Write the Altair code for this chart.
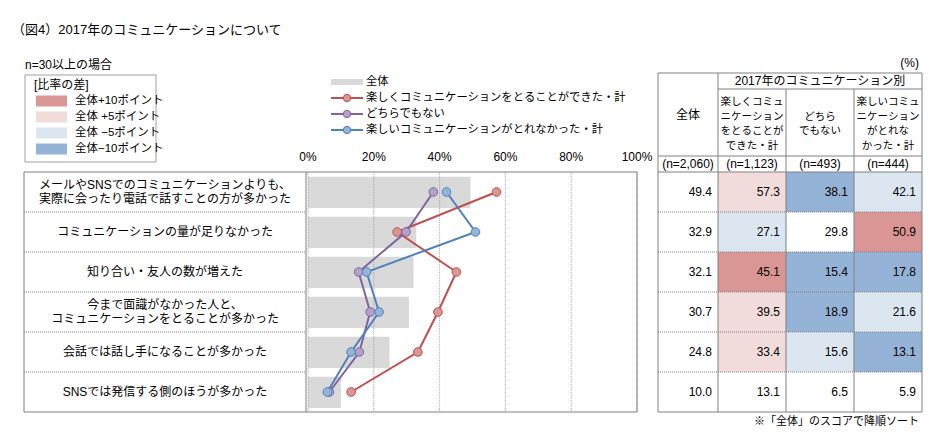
import altair as alt
import pandas as pd

# ---------------- data ----------------
title_text = "（図4）2017年のコミュニケーションについて"
subset_note = "n=30以上の場合"
unit_note = "(%)"
sort_note = "※「全体」のスコアで降順ソート"

items = [
    "メールやSNSでのコミュニケーションよりも、\n実際に会ったり電話で話すことの方が多かった",
    "コミュニケーションの量が足りなかった",
    "知り合い・友人の数が増えた",
    "今まで面識がなかった人と、\nコミュニケーションをとることが多かった",
    "会話では話し手になることが多かった",
    "SNSでは発信する側のほうが多かった",
]
total = [49.4, 32.9, 32.1, 30.7, 24.8, 10.0]
enjoyed = [57.3, 27.1, 45.1, 39.5, 33.4, 13.1]
neither = [38.1, 29.8, 15.4, 18.9, 15.6, 6.5]
not_enjoyed = [42.1, 50.9, 17.8, 21.6, 13.1, 5.9]

total_name = "全体"
series_names = [
    "楽しくコミュニケーションをとることができた・計",
    "どちらでもない",
    "楽しいコミュニケーションがとれなかった・計",
]
group_header = "2017年のコミュニケーション別"
column_headers = [
    "全体",
    "楽しくコミュ\nニケーション\nをとることが\nできた・計",
    "どちら\nでもない",
    "楽しいコミュ\nニケーション\nがとれな\nかった・計",
]
sample_sizes = ["(n=2,060)", "(n=1,123)", "(n=493)", "(n=444)"]
pct_ticks = [0, 20, 40, 60, 80, 100]
diff_title = "[比率の差]"
diff_levels = ["全体+10ポイント", "全体 +5ポイント", "全体 −5ポイント", "全体−10ポイント"]

# ---------------- styles / layout ----------------
FONT = "Liberation Sans, Noto Sans CJK JP"
BAR_COLOR = "#d9d9d9"
LINE_COLORS = ["#c0504d", "#8064a2", "#4f81bd"]
POINT_FILLS = ["#d99694", "#b3a2c7", "#95b3d7"]
DIFF_COLORS = ["#da9694", "#f2dcdb", "#dce6f1", "#95b3d7"]
BORDER = "#808080"
GRIDC = "#a6a6a6"

W, H = 922, 431
n = len(items)
HEADER_UNITS = [0.4, 1.675, 0.4]   # group header, column header, n row (in row units)
TOP = -sum(HEADER_UNITS)
ROW_RANGE = [65, 404]
PX_PER_UNIT = (ROW_RANGE[1] - ROW_RANGE[0]) / (n - TOP)
COL_W = [60, 68, 68, 68]
col_edges = [0]
for w in COL_W:
    col_edges.append(col_edges[-1] + w)


def y_row():
    return alt.Scale(domain=[TOP, n], range=ROW_RANGE, nice=False, zero=False)


def x_pct():
    return alt.Scale(domain=[0, 100], range=[300, 629], nice=False, zero=False)


def x_tab():
    return alt.Scale(domain=[0, col_edges[-1]], range=[650, 914], nice=False, zero=False)


def txt(**kw):
    base = dict(font=FONT, color="#000000", baseline="middle")
    base.update(kw)
    return base


def explode(df, col, line_px):
    """Split multi-line text into one row per line, centred on the row's y."""
    out = []
    for _, r in df.iterrows():
        parts = str(r[col]).split("\n")
        L = len(parts)
        for k, p in enumerate(parts):
            d = dict(r)
            d["line"] = p
            d["y"] = r["y"] + (k - (L - 1) / 2) * line_px / PX_PER_UNIT
            out.append(d)
    return pd.DataFrame(out)


one = pd.DataFrame({"k": [0]})

# ---------------- frames ----------------
rows = pd.DataFrame({"item": items, "row": list(range(n)), "total": total})
rows["y"] = rows["row"] + 0.5
rows["btop"] = rows["row"] + 0.12
rows["bbot"] = rows["row"] + 0.9
rows["base"] = 0.0

series_vals = [enjoyed, neither, not_enjoyed]
long = []
for s, vals in zip(series_names, series_vals):
    for i, v in enumerate(vals):
        long.append({"series": s, "row": i, "y": i + 0.5, "value": v})
long = pd.DataFrame(long)

# ---------------- left label panel + plot ----------------
box = alt.Chart(one).mark_rect(fillOpacity=0, stroke=BORDER, strokeWidth=1).encode(
    x=alt.value(16), x2=alt.value(629), y=alt.value(164), y2=alt.value(404))

sep_df = pd.DataFrame({"y": list(range(1, n))})
seps = alt.Chart(sep_df).mark_rule(color=BORDER, strokeDash=[1, 1]).encode(
    x=alt.value(16), x2=alt.value(298),
    y=alt.Y("y:Q", scale=y_row(), axis=None))
divider = alt.Chart(one).mark_rule(color=BORDER).encode(
    x=alt.value(298), y=alt.value(164), y2=alt.value(404))

label_lines = explode(rows[["item", "y"]], "item", 13.5)
labels = alt.Chart(label_lines).mark_text(**txt(fontSize=12, align="center")).encode(
    x=alt.value(157),
    y=alt.Y("y:Q", scale=y_row(), axis=None),
    text="line:N")

bars = alt.Chart(rows).mark_rect(color=BAR_COLOR).encode(
    x=alt.X("base:Q", scale=x_pct(), axis=None), x2="total:Q",
    y=alt.Y("btop:Q", scale=y_row(), axis=None), y2="bbot:Q")

grid_df = pd.DataFrame({"tick": pct_ticks, "label": [f"{t}%" for t in pct_ticks],
                        "y0": [0] * len(pct_ticks), "y1": [n] * len(pct_ticks)})
grid = alt.Chart(grid_df).mark_rule(color=GRIDC, strokeDash=[1, 1]).encode(
    x=alt.X("tick:Q", scale=x_pct(), axis=None),
    y=alt.Y("y0:Q", scale=y_row(), axis=None), y2="y1:Q")
ticklabels = alt.Chart(grid_df).mark_text(**txt(fontSize=12, align="center")).encode(
    x=alt.X("tick:Q", scale=x_pct(), axis=None), y=alt.value(149), text="label:N")

lines = alt.Chart(long).mark_line(strokeWidth=2).encode(
    x=alt.X("value:Q", scale=x_pct(), axis=None),
    y=alt.Y("y:Q", scale=y_row(), axis=None),
    color=alt.Color("series:N", scale=alt.Scale(domain=series_names, range=LINE_COLORS), legend=None),
    order="row:Q", detail="series:N")
points = alt.Chart(long).mark_point(shape="circle", filled=True, opacity=1, size=75, strokeWidth=1).encode(
    x=alt.X("value:Q", scale=x_pct(), axis=None),
    y=alt.Y("y:Q", scale=y_row(), axis=None),
    fill=alt.Fill("series:N", scale=alt.Scale(domain=series_names, range=POINT_FILLS), legend=None),
    stroke=alt.Stroke("series:N", scale=alt.Scale(domain=series_names, range=LINE_COLORS), legend=None))

# ---------------- table ----------------
table_cols = [total, enjoyed, neither, not_enjoyed]
cells = []
for j, vals in enumerate(table_cols):
    for i, v in enumerate(vals):
        lvl = ""
        if j > 0:
            d = v - total[i]
            if d >= 10:
                lvl = diff_levels[0]
            elif d >= 5:
                lvl = diff_levels[1]
            elif d <= -10:
                lvl = diff_levels[3]
            elif d <= -5:
                lvl = diff_levels[2]
        cells.append({"col": j, "row": i, "x0": col_edges[j], "x1": col_edges[j + 1],
                      "y0": i, "y1": i + 1, "ymid": i + 0.5, "label": f"{v:.1f}", "level": lvl})
cells = pd.DataFrame(cells)

fills = alt.Chart(cells).transform_filter("datum.level != ''").mark_rect().encode(
    x=alt.X("x0:Q", scale=x_tab(), axis=None), x2="x1:Q",
    y=alt.Y("y0:Q", scale=y_row(), axis=None), y2="y1:Q",
    fill=alt.Fill("level:N", scale=alt.Scale(domain=diff_levels, range=DIFF_COLORS), legend=None))
numbers = alt.Chart(cells).mark_text(**txt(fontSize=12, align="right", dx=-6)).encode(
    x=alt.X("x1:Q", scale=x_tab(), axis=None),
    y=alt.Y("ymid:Q", scale=y_row(), axis=None), text="label:N")

h1 = TOP + HEADER_UNITS[0]
h2 = h1 + HEADER_UNITS[1]
solid_rules = [
    (0, col_edges[-1], TOP, TOP),
    (col_edges[1], col_edges[-1], h1, h1),
    (0, col_edges[-1], h2, h2),
    (0, col_edges[-1], 0, 0),
    (0, col_edges[-1], n, n),
    (col_edges[0], col_edges[0], TOP, n),
    (col_edges[1], col_edges[1], TOP, n),
    (col_edges[2], col_edges[2], h1, n),
    (col_edges[3], col_edges[3], h1, n),
    (col_edges[4], col_edges[4], TOP, n),
]
solid_df = pd.DataFrame(solid_rules, columns=["x", "x2", "y", "y2"])
dotted_df = pd.DataFrame([(0, col_edges[-1], k, k) for k in range(1, n)], columns=["x", "x2", "y", "y2"])

tab_solid = alt.Chart(solid_df).mark_rule(color=BORDER).encode(
    x=alt.X("x:Q", scale=x_tab(), axis=None), x2="x2:Q",
    y=alt.Y("y:Q", scale=y_row(), axis=None), y2="y2:Q")
tab_dot = alt.Chart(dotted_df).mark_rule(color=BORDER, strokeDash=[1, 1]).encode(
    x=alt.X("x:Q", scale=x_tab(), axis=None), x2="x2:Q",
    y=alt.Y("y:Q", scale=y_row(), axis=None), y2="y2:Q")

big_hdr = pd.DataFrame({
    "text": [column_headers[0], group_header],
    "x": [COL_W[0] / 2, (col_edges[1] + col_edges[-1]) / 2],
    "y": [(TOP + h2) / 2, (TOP + h1) / 2],
})
headers_big = alt.Chart(big_hdr).mark_text(**txt(fontSize=12, align="center")).encode(
    x=alt.X("x:Q", scale=x_tab(), axis=None),
    y=alt.Y("y:Q", scale=y_row(), axis=None), text="text:N")

small_hdr = pd.DataFrame({
    "text": column_headers[1:],
    "x": [(col_edges[j] + col_edges[j + 1]) / 2 for j in range(1, 4)],
    "y": [(h1 + h2) / 2] * 3,
})
small_lines = explode(small_hdr, "text", 14.5)
headers_small = alt.Chart(small_lines).mark_text(**txt(fontSize=10.5, align="center", dy=1.5)).encode(
    x=alt.X("x:Q", scale=x_tab(), axis=None),
    y=alt.Y("y:Q", scale=y_row(), axis=None), text="line:N")

n_df = pd.DataFrame({"text": sample_sizes,
                     "x": [(col_edges[j] + col_edges[j + 1]) / 2 for j in range(4)],
                     "y": [h2 / 2] * 4})
n_text = alt.Chart(n_df).mark_text(**txt(fontSize=12, align="center")).encode(
    x=alt.X("x:Q", scale=x_tab(), axis=None),
    y=alt.Y("y:Q", scale=y_row(), axis=None), text="text:N")

# ---------------- notes ----------------
title = alt.Chart(pd.DataFrame({"t": [title_text]})).mark_text(**txt(fontSize=13, align="left")).encode(
    x=alt.value(4), y=alt.value(22), text="t:N")
subnote = alt.Chart(pd.DataFrame({"t": [subset_note]})).mark_text(**txt(fontSize=12, align="left")).encode(
    x=alt.value(17), y=alt.value(57), text="t:N")
unit = alt.Chart(pd.DataFrame({"t": [unit_note]})).mark_text(**txt(fontSize=12, align="right")).encode(
    x=alt.value(911), y=alt.value(55), text="t:N")
sortn = alt.Chart(pd.DataFrame({"t": [sort_note]})).mark_text(**txt(fontSize=11, align="right")).encode(
    x=alt.value(911), y=alt.value(414), text="t:N")

# ---------------- difference legend ----------------
leg_box = alt.Chart(one).mark_rect(fillOpacity=0, stroke="#a0a0a0", strokeWidth=1).encode(
    x=alt.value(17), x2=alt.value(148), y=alt.value(67), y2=alt.value(154))
leg_title = alt.Chart(pd.DataFrame({"t": [diff_title]})).mark_text(**txt(fontSize=12, align="left")).encode(
    x=alt.value(26), y=alt.value(77), text="t:N")
diff_df = pd.DataFrame({"level": diff_levels})
dscale = alt.Scale(type="point", domain=diff_levels, range=[93, 141], padding=0)
leg_sw = alt.Chart(diff_df).mark_rule(strokeWidth=11).encode(
    x=alt.value(28), x2=alt.value(59),
    y=alt.Y("level:N", scale=dscale, axis=None),
    color=alt.Color("level:N", scale=alt.Scale(domain=diff_levels, range=DIFF_COLORS), legend=None))
leg_tx = alt.Chart(diff_df).mark_text(**txt(fontSize=11.5, align="left")).encode(
    x=alt.value(67), y=alt.Y("level:N", scale=dscale, axis=None), text="level:N")

# ---------------- series legend ----------------
entries = [total_name] + series_names
ent_df = pd.DataFrame({"name": entries})
escale = alt.Scale(type="point", domain=entries, range=[74, 122], padding=0)
ent_bar = alt.Chart(ent_df[ent_df.name == total_name]).mark_rule(strokeWidth=6, color=BAR_COLOR).encode(
    x=alt.value(323), x2=alt.value(355), y=alt.Y("name:N", scale=escale, axis=None))
ser_df = pd.DataFrame({"name": series_names})
ent_line = alt.Chart(ser_df).mark_rule(strokeWidth=2).encode(
    x=alt.value(323), x2=alt.value(355), y=alt.Y("name:N", scale=escale, axis=None),
    color=alt.Color("name:N", scale=alt.Scale(domain=series_names, range=LINE_COLORS), legend=None))
ent_pt = alt.Chart(ser_df).mark_point(shape="circle", filled=True, opacity=1, size=55, strokeWidth=1).encode(
    x=alt.value(339), y=alt.Y("name:N", scale=escale, axis=None),
    fill=alt.Fill("name:N", scale=alt.Scale(domain=series_names, range=POINT_FILLS), legend=None),
    stroke=alt.Stroke("name:N", scale=alt.Scale(domain=series_names, range=LINE_COLORS), legend=None))
ent_tx = alt.Chart(ent_df).mark_text(**txt(fontSize=11.3, align="left")).encode(
    x=alt.value(358), y=alt.Y("name:N", scale=escale, axis=None), text="name:N")

chart = alt.layer(
    bars, grid, box, seps, divider, labels, ticklabels, lines, points,
    fills, tab_dot, tab_solid, numbers, headers_big, headers_small, n_text,
    title, subnote, unit, sortn,
    leg_box, leg_title, leg_sw, leg_tx,
    ent_bar, ent_line, ent_pt, ent_tx,
).resolve_scale(
    x="independent", y="independent", color="independent", fill="independent", stroke="independent"
).properties(
    width=W, height=H, padding=0, autosize="none", background="white"
).configure_view(stroke=None)

chart.save("out.html", embed_options={"renderer": "svg", "actions": False})
